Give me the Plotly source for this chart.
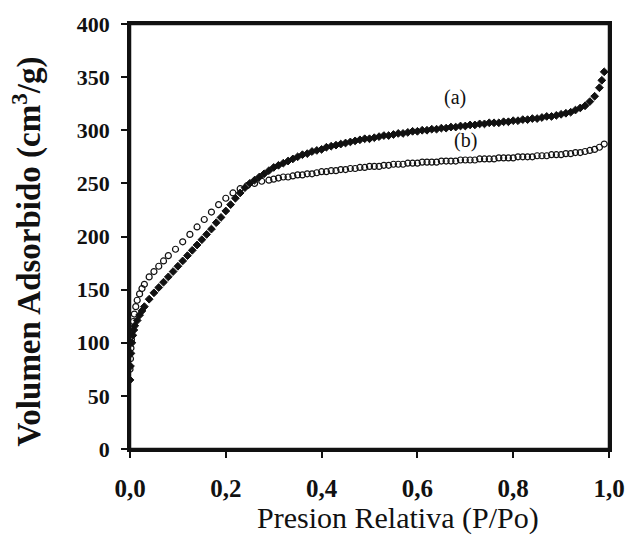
import plotly.graph_objects as go

# Series (a): filled markers
a_x = [0.000, 0.001, 0.002, 0.004, 0.006, 0.008, 0.010, 0.015, 0.020, 0.025, 0.030,
       0.040, 0.050, 0.060, 0.070, 0.080, 0.090,
       0.10, 0.11, 0.12, 0.13, 0.14, 0.15, 0.16, 0.17, 0.18, 0.19,
       0.20, 0.21, 0.22, 0.23, 0.24, 0.25, 0.26, 0.27, 0.28, 0.29,
       0.30, 0.31, 0.32, 0.33, 0.34, 0.35, 0.36, 0.37, 0.38, 0.39,
       0.40, 0.41, 0.42, 0.43, 0.44, 0.45, 0.46, 0.47, 0.48, 0.49,
       0.50, 0.51, 0.52, 0.53, 0.54, 0.55, 0.56, 0.57, 0.58, 0.59,
       0.60, 0.61, 0.62, 0.63, 0.64, 0.65, 0.66, 0.67, 0.68, 0.69,
       0.70, 0.71, 0.72, 0.73, 0.74, 0.75, 0.76, 0.77, 0.78, 0.79,
       0.80, 0.81, 0.82, 0.83, 0.84, 0.85, 0.86, 0.87, 0.88, 0.89,
       0.90, 0.91, 0.92, 0.93, 0.94, 0.95, 0.96, 0.97, 0.98, 0.985, 0.99]
a_y = [65, 78, 90, 100, 107, 112, 116, 121, 126, 130, 134,
       141, 147, 152, 157, 162, 167,
       172, 177, 182, 187, 192, 197, 202, 207, 213, 218,
       224, 230, 236, 241, 246, 250, 253, 256, 259, 262,
       265, 267, 269, 271, 273, 275, 277, 278, 280, 281,
       282, 284, 285, 286, 287, 288, 289, 290, 291, 292,
       292, 293, 294, 295, 295, 296, 297, 297, 298, 299,
       299, 300, 300, 301, 301, 302, 302, 303, 303, 304,
       304, 305, 305, 306, 306, 307, 307, 307, 308, 308,
       309, 309, 310, 310, 311, 311, 312, 313, 313, 314,
       315, 316, 317, 319, 321, 323, 327, 332, 340, 347, 355]

# Series (b): open circles
b_x = [0.000, 0.001, 0.002, 0.003, 0.005, 0.007, 0.009, 0.012, 0.015, 0.020, 0.025,
       0.030, 0.040, 0.050, 0.060, 0.070, 0.080, 0.095, 0.110, 0.125, 0.140,
       0.155, 0.170, 0.185, 0.200, 0.215, 0.230, 0.245, 0.260, 0.275, 0.29, 0.30,
       0.31, 0.32, 0.33, 0.34, 0.35, 0.36, 0.37, 0.38, 0.39,
       0.40, 0.41, 0.42, 0.43, 0.44, 0.45, 0.46, 0.47, 0.48, 0.49,
       0.50, 0.51, 0.52, 0.53, 0.54, 0.55, 0.56, 0.57, 0.58, 0.59,
       0.60, 0.61, 0.62, 0.63, 0.64, 0.65, 0.66, 0.67, 0.68, 0.69,
       0.70, 0.71, 0.72, 0.73, 0.74, 0.75, 0.76, 0.77, 0.78, 0.79,
       0.80, 0.81, 0.82, 0.83, 0.84, 0.85, 0.86, 0.87, 0.88, 0.89,
       0.90, 0.91, 0.92, 0.93, 0.94, 0.95, 0.96, 0.97, 0.98, 0.99]
b_y = [75, 85, 95, 103, 112, 120, 127, 134, 140, 146, 151,
       155, 162, 167, 172, 177, 182, 188, 195, 202, 209,
       216, 223, 230, 236, 241, 245, 248, 250, 252, 253, 254,
       255, 256, 256, 257, 258, 258, 259, 259, 260,
       261, 261, 262, 262, 263, 263, 264, 264, 265, 265,
       266, 266, 266, 267, 267, 268, 268, 268, 269, 269,
       269, 270, 270, 270, 270, 271, 271, 271, 271, 272,
       272, 272, 272, 273, 273, 273, 273, 274, 274, 274,
       274, 275, 275, 275, 275, 276, 276, 276, 277, 277,
       277, 278, 278, 279, 279, 280, 281, 282, 284, 287]

x_tick_vals = [0.0, 0.2, 0.4, 0.6, 0.8, 1.0]
x_tick_labels = ["0,0", "0,2", "0,4", "0,6", "0,8", "1,0"]
y_tick_vals = [0, 50, 100, 150, 200, 250, 300, 350, 400]
y_tick_labels = ["0", "50", "100", "150", "200", "250", "300", "350", "400"]

x_title = "Presion Relativa (P/Po)"
y_title = "Volumen Adsorbido (cm<sup>3</sup>/g)"
series_labels = ["(a)", "(b)"]
label_pos = [(0.678, 331), (0.700, 290)]

FONT = "Liberation Serif"
INK = "#111111"

fig = go.Figure()
fig.add_trace(go.Scatter(
    x=a_x, y=a_y, mode="markers", name="(a)",
    marker=dict(symbol="diamond", size=6, color=INK, line=dict(color=INK, width=1)),
))
fig.add_trace(go.Scatter(
    x=b_x, y=b_y, mode="markers", name="(b)",
    marker=dict(symbol="circle-open", size=6, color=INK, line=dict(color=INK, width=1.2)),
))
# invisible companion trace so the top/right frame axes are drawn
fig.add_trace(go.Scatter(
    x=b_x, y=b_y, mode="markers", xaxis="x2", yaxis="y2",
    marker=dict(size=1, opacity=0), hoverinfo="skip", showlegend=False,
))

for lab, (lx, ly) in zip(series_labels, label_pos):
    fig.add_annotation(x=lx, y=ly, text=lab, showarrow=False,
                       font=dict(family=FONT, size=20, color=INK))

fig.add_annotation(xref="paper", yref="paper", x=0.56, y=-0.163, text=x_title,
                   showarrow=False, xanchor="center", yanchor="middle",
                   font=dict(family=FONT, size=30, color=INK))
fig.add_annotation(xref="paper", yref="paper", x=-0.214, y=0.466, text=y_title,
                   showarrow=False, textangle=-90, xanchor="center", yanchor="middle",
                   font=dict(family=FONT, size=33, color=INK, weight="bold"))

fig.add_shape(type="rect", xref="x domain", yref="y domain", x0=0, y0=0, x1=1, y1=1,
              line=dict(color=INK, width=2.5), fillcolor="rgba(0,0,0,0)", layer="above")

axis_common = dict(
    showline=True, linewidth=2.5, linecolor=INK, mirror=True,
    ticks="outside", ticklen=6, tickwidth=2, tickcolor=INK,
    showgrid=False, zeroline=False,
)
fig.update_layout(
    xaxis=dict(range=[0, 1.0], tickvals=x_tick_vals, ticktext=x_tick_labels,
               ticklabelstandoff=9,
               tickfont=dict(family=FONT, size=25, color=INK, weight="bold"),
               **axis_common),
    yaxis=dict(range=[0, 400], tickvals=y_tick_vals, ticktext=y_tick_labels,
               ticklabelstandoff=7,
               tickfont=dict(family=FONT, size=22, color=INK, weight="bold"),
               **axis_common),
    xaxis2=dict(overlaying="x", side="top", range=[0, 1.0], showline=True,
                linewidth=2.5, linecolor=INK, ticks="", showticklabels=False,
                showgrid=False, zeroline=False),
    yaxis2=dict(overlaying="y", side="right", range=[0, 400], showline=True,
                linewidth=2.5, linecolor=INK, ticks="", showticklabels=False,
                showgrid=False, zeroline=False),
    width=637, height=540,
    margin=dict(l=130, r=21, t=21, b=91),
    plot_bgcolor="white", paper_bgcolor="white",
    showlegend=False,
)

fig.write_html("out.html")
